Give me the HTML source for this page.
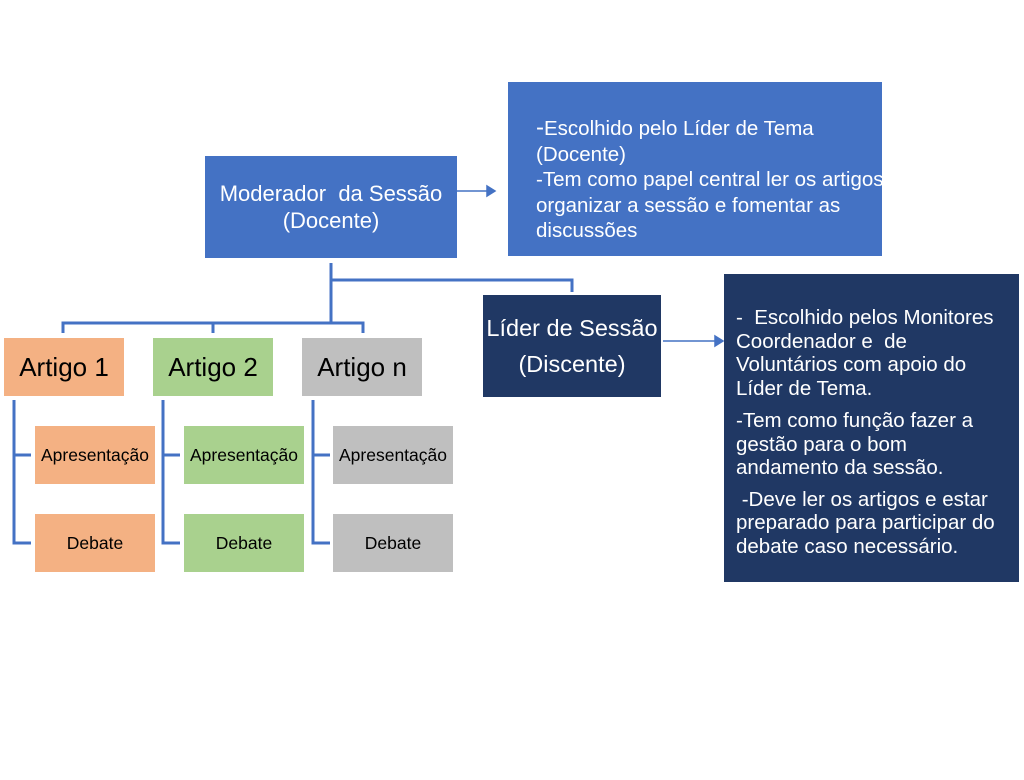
<!DOCTYPE html>
<html><head><meta charset="utf-8"><style>
body{margin:0;width:1024px;height:780px;background:#fff;position:relative;overflow:hidden;font-family:"Liberation Sans",sans-serif}
.b{position:absolute;box-sizing:border-box;display:flex;align-items:center;justify-content:center;text-align:center;white-space:nowrap}
.t{position:absolute;color:#fff;white-space:nowrap;text-align:left}
</style></head><body>
<svg width="1024" height="780" style="position:absolute;left:0;top:0">
<g stroke="#4472C4" stroke-width="3" fill="none">
<path d="M331 263V323M331 280H572V292M63 333V323H363V333M213 323V333"/>
<path d="M14 400V543H31M14 455H31M163 400V543H180M163 455H180M313 400V543H330M313 455H330"/>
</g>
<g stroke="#4472C4" stroke-width="1.5" fill="#4472C4">
<path d="M457 191H488"/><path d="M487 186L495 191L487 196Z"/>
<path d="M663 341H716"/><path d="M715 336L723 341L715 346Z"/>
</g>
</svg>
<div class="b" style="left:205px;top:156px;width:252px;height:102px;background:#4472C4;color:#fff;font-size:22px;line-height:27px">Moderador&nbsp; da Sessão<br>(Docente)</div>
<div style="position:absolute;left:508px;top:82px;width:374px;height:174px;background:#4472C4;overflow:hidden">
<div class="t" style="left:28px;top:33px;font-size:20.5px;line-height:25.5px"><span style="font-size:24px">-</span>Escolhido pelo Líder de Tema<br>(Docente)<br>-Tem como papel central ler os artigos,<br>organizar a sessão e fomentar as<br>discussões</div></div>
<div class="b" style="left:483px;top:295px;width:178px;height:102px;background:#203864;color:#fff;font-size:23.5px;line-height:36px">Líder de Sessão<br>(Discente)</div>
<div class="b" style="left:724px;top:274px;width:295px;height:308px;background:#203864"></div>
<div class="t" style="left:736px;top:306px;font-size:20.5px;line-height:23.5px">- &nbsp;Escolhido pelos Monitores<br>Coordenador e &nbsp;de<br>Voluntários com apoio do<br>Líder de Tema.<div style="height:9px"></div>-Tem como função fazer a<br>gestão para o bom<br>andamento da sessão.<div style="height:8px"></div>&nbsp;-Deve ler os artigos e estar<br>preparado para participar do<br>debate caso necessário.</div>
<div class="b" style="left:4px;top:338px;width:120px;height:58px;background:#F4B183;font-size:26px">Artigo 1</div>
<div class="b" style="left:153px;top:338px;width:120px;height:58px;background:#A9D18E;font-size:26px">Artigo 2</div>
<div class="b" style="left:302px;top:338px;width:120px;height:58px;background:#BFBFBF;font-size:26px">Artigo n</div>
<div class="b" style="left:35px;top:426px;width:120px;height:58px;background:#F4B183;font-size:17.5px">Apresentação</div>
<div class="b" style="left:35px;top:514px;width:120px;height:58px;background:#F4B183;font-size:17.5px">Debate</div>
<div class="b" style="left:184px;top:426px;width:120px;height:58px;background:#A9D18E;font-size:17.5px">Apresentação</div>
<div class="b" style="left:184px;top:514px;width:120px;height:58px;background:#A9D18E;font-size:17.5px">Debate</div>
<div class="b" style="left:333px;top:426px;width:120px;height:58px;background:#BFBFBF;font-size:17.5px">Apresentação</div>
<div class="b" style="left:333px;top:514px;width:120px;height:58px;background:#BFBFBF;font-size:17.5px">Debate</div>
</body></html>
